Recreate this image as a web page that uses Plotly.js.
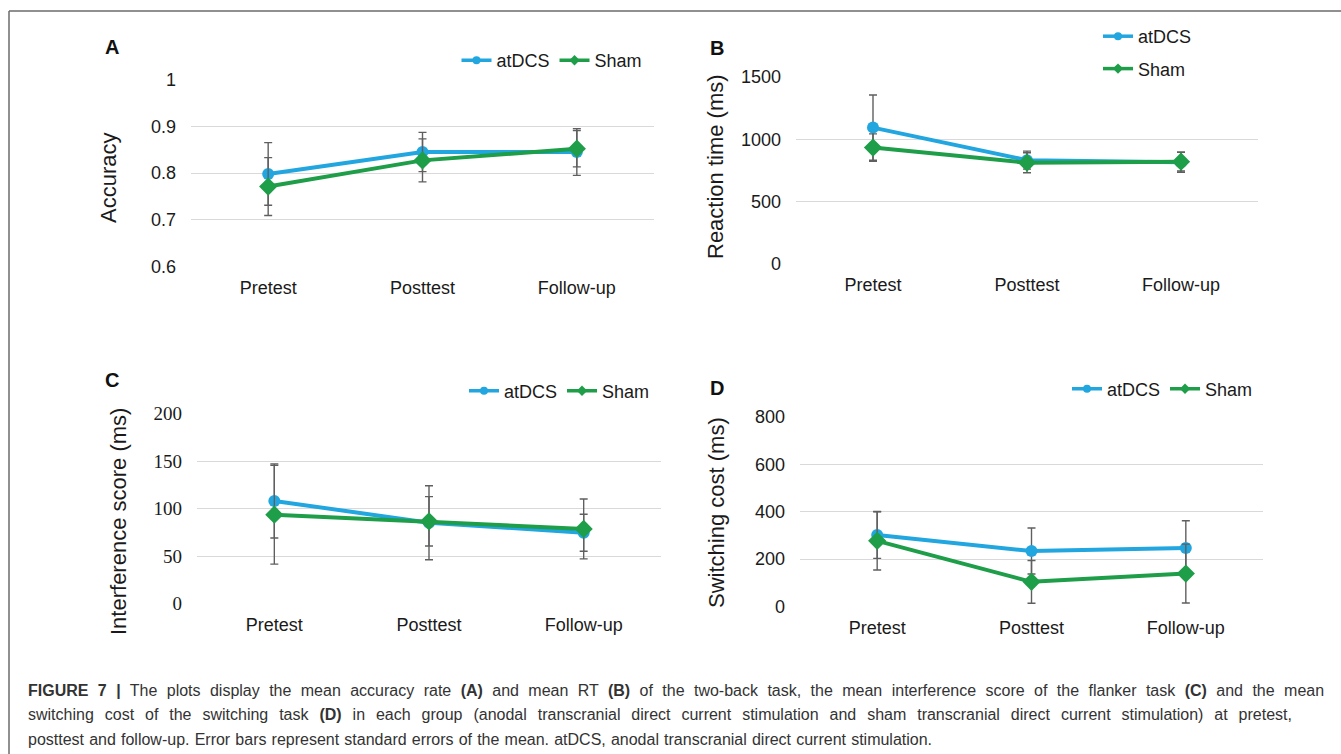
<!DOCTYPE html>
<html>
<head>
<meta charset="utf-8">
<script src="https://cdn.plot.ly/plotly-3.0.1.min.js"></script>
<style>
  html, body { margin: 0; padding: 0; background: #fff; }
  #chart { width: 1341px; height: 754px; }
</style>
</head>
<body>
<div id="chart"></div>
<script>
// ---------- data ----------
const categories = ['Pretest', 'Posttest', 'Follow-up'];
const seriesNames = ['atDCS', 'Sham'];

// Panel A: accuracy (two-back)
const accAtdcs = [0.798, 0.845, 0.845];
const accAtdcsSe = [0.067, 0.042, 0.050];
const accSham = [0.771, 0.827, 0.852];
const accShamSe = [0.062, 0.046, 0.039];
const accTicks = [0.6, 0.7, 0.8, 0.9, 1];
const accTickText = ['0.6', '0.7', '0.8', '0.9', '1'];

// Panel B: reaction time (two-back)
const rtAtdcs = [1093, 832, 815];
const rtAtdcsSe = [262, 72, 80];
const rtSham = [933, 811, 820];
const rtShamSe = [110, 80, 75];
const rtTicks = [0, 500, 1000, 1500];

// Panel C: interference score (flanker)
const intAtdcs = [108, 85, 74.5];
const intAtdcsSe = [39, 39, 19.5];
const intSham = [93.5, 86.5, 78.5];
const intShamSe = [52, 26, 31.5];
const intTicks = [0, 50, 100, 150, 200];

// Panel D: switching cost (switching task)
const swAtdcs = [302, 234, 247];
const swAtdcsSe = [99, 97, 115];
const swSham = [277, 104, 139];
const swShamSe = [123, 90, 124];
const swTicks = [0, 200, 400, 600, 800];

const panelLetters = ['A', 'B', 'C', 'D'];
const yTitles = ['Accuracy', 'Reaction time (ms)', 'Interference score (ms)', 'Switching cost (ms)'];

const captionLines = [
  '<b>FIGURE 7 |</b> The plots display the mean accuracy rate <b>(A)</b> and mean RT <b>(B)</b> of the two-back task, the mean interference score of the flanker task <b>(C)</b> and the mean',
  'switching cost of the switching task <b>(D)</b> in each group (anodal transcranial direct current stimulation and sham transcranial direct current stimulation) at pretest,',
  'posttest and follow-up. Error bars represent standard errors of the mean. atDCS, anodal transcranial direct current stimulation.'
];

// ---------- styling ----------
const W = 1341, H = 754;
const px = x => x / W;
const py = y => 1 - y / H;
const BLUE = '#21A6E0';
const GREEN = '#1E9E48';
const ERR = '#5f5f5f';
const SANS = 'Liberation Sans, Arial, sans-serif';
const SERIF = 'Liberation Serif, Times New Roman, serif';
const TXT = '#1a1a1a';

function pair(xa, ya, legendId, aVals, aSe, sVals, sSe) {
  const err = se => ({type: 'data', array: se, visible: true, color: ERR, thickness: 1.4, width: 4});
  const aLine = {color: BLUE, width: 4};
  const sLine = {color: GREEN, width: 4};
  return [
    {x: categories, y: aVals, name: seriesNames[0], type: 'scatter', mode: 'lines+markers',
     xaxis: xa, yaxis: ya, showlegend: false,
     line: aLine, marker: {color: BLUE, size: 12, symbol: 'circle'},
     error_y: err(aSe), hoverinfo: 'x+y'},
    {x: categories, y: sVals, name: seriesNames[1], type: 'scatter', mode: 'lines+markers',
     xaxis: xa, yaxis: ya, showlegend: false,
     line: sLine, marker: {color: GREEN, size: 14, symbol: 'diamond'},
     error_y: err(sSe), hoverinfo: 'x+y'},
    // legend entries (no points of their own; smaller legend symbols like the original)
    {x: [null], y: [null], name: seriesNames[0], type: 'scatter', mode: 'lines+markers',
     xaxis: xa, yaxis: ya, legend: legendId, legendgroup: legendId + 'a', hoverinfo: 'skip',
     line: {color: BLUE, width: 3.5}, marker: {color: BLUE, size: 8, symbol: 'circle'}},
    {x: [null], y: [null], name: seriesNames[1], type: 'scatter', mode: 'lines+markers',
     xaxis: xa, yaxis: ya, legend: legendId, legendgroup: legendId + 's', hoverinfo: 'skip',
     line: {color: GREEN, width: 3.5}, marker: {color: GREEN, size: 8, symbol: 'diamond'}}
  ];
}

const data = [
  ...pair('x', 'y', 'legend', accAtdcs, accAtdcsSe, accSham, accShamSe),
  ...pair('x2', 'y2', 'legend2', rtAtdcs, rtAtdcsSe, rtSham, rtShamSe),
  ...pair('x3', 'y3', 'legend3', intAtdcs, intAtdcsSe, intSham, intShamSe),
  ...pair('x4', 'y4', 'legend4', swAtdcs, swAtdcsSe, swSham, swShamSe)
];

function xax(d0, d1, anchor) {
  return {domain: [px(d0), px(d1)], type: 'category', range: [-0.5, 2.5], anchor: anchor,
    showgrid: false, zeroline: false, showline: false, ticks: '',
    ticklabelstandoff: 8, tickfont: {family: SANS, size: 18, color: TXT}, fixedrange: true};
}
function yax(top, bottom, range, tickvals, ticktext, anchor, fontFamily, fontSize) {
  return {domain: [py(bottom), py(top)], range: range, anchor: anchor,
    tickmode: 'array', tickvals: tickvals, ticktext: ticktext,
    showgrid: true, gridcolor: '#d9d9d9', gridwidth: 1.3, zeroline: false, showline: false, ticks: '',
    ticklabelstandoff: 14, tickfont: {family: fontFamily, size: fontSize, color: TXT}, fixedrange: true};
}

function legendAt(x, y, orientation, extra) {
  return Object.assign({x: px(x), y: py(y), xanchor: 'left', yanchor: 'middle', orientation: orientation,
    bgcolor: 'rgba(0,0,0,0)', borderwidth: 0, font: {family: SANS, size: 18, color: TXT},
    itemclick: false, itemdoubleclick: false}, extra || {});
}

const annotations = [];
// panel letters
[[112, 47], [717, 48], [112, 380], [717, 388]].forEach((p, i) => {
  annotations.push({text: '<b>' + panelLetters[i] + '</b>', xref: 'paper', yref: 'paper',
    x: px(p[0]), y: py(p[1]), xanchor: 'center', yanchor: 'middle', showarrow: false,
    font: {family: SANS, size: 20, color: '#111'}});
});
// y axis titles
[[109, 178], [716, 167], [118, 522], [716, 513]].forEach((p, i) => {
  annotations.push({text: yTitles[i], xref: 'paper', yref: 'paper', textangle: -90,
    x: px(p[0]), y: py(p[1]), xanchor: 'center', yanchor: 'middle', showarrow: false,
    font: {family: SANS, size: 22, color: TXT}});
});
// caption
const captionStartX = 26;
const captionEnds = [1322, 1290, 930];
const captionIdx0 = annotations.length;
[690, 714, 739].forEach((yy, i) => {
  annotations.push({text: captionLines[i], xref: 'paper', yref: 'paper', align: 'left',
    x: px(captionStartX), y: py(yy), xanchor: 'left', yanchor: 'middle', showarrow: false,
    font: {family: SANS, size: 16, color: '#333'}});
});

const layout = {
  width: W, height: H,
  margin: {l: 0, r: 0, t: 0, b: 0},
  paper_bgcolor: '#fff', plot_bgcolor: '#fff',
  showlegend: true,
  xaxis: xax(191, 654, 'y'),
  yaxis: yax(79.3, 266.7, [0.5995, 1.0005], accTicks, accTickText, 'x', SANS, 18),
  xaxis2: xax(796, 1258, 'y2'),
  yaxis2: yax(76.7, 264, [-1.5, 1501.5], rtTicks, rtTicks.map(String), 'x2', SANS, 18),
  xaxis3: xax(197, 661, 'y3'),
  yaxis3: yax(413.3, 603.7, [-0.2, 200.2], intTicks, intTicks.map(String), 'x3', SERIF, 19),
  xaxis4: xax(800, 1263, 'y4'),
  yaxis4: yax(416.7, 606.7, [-0.8, 800.8], swTicks, swTicks.map(String), 'x4', SANS, 18),
  legend: legendAt(456.5, 60.5, 'h'),
  legend2: legendAt(1098, 52.5, 'v', {traceorder: 'grouped', tracegroupgap: 6}),
  legend3: legendAt(464, 391, 'h'),
  legend4: legendAt(1067, 389, 'h'),
  annotations: annotations,
  shapes: [
    {type: 'line', xref: 'paper', yref: 'paper', x0: px(9), x1: 1, y0: py(11), y1: py(11),
     line: {color: '#6b6b6b', width: 1.5}},
    {type: 'line', xref: 'paper', yref: 'paper', x0: px(9), x1: px(9), y0: py(11), y1: 0,
     line: {color: '#6b6b6b', width: 1.5}}
  ]
};

Plotly.newPlot('chart', data, layout, {displayModeBar: false, responsive: false}).then(gd => {
  // spread caption words so each line ends where the printed caption does
  captionEnds.forEach((endX, i) => {
    const g = gd.querySelector('g.annotation[data-index="' + (captionIdx0 + i) + '"]');
    if (!g) return;
    const t = g.querySelector('text.annotation-text');
    if (!t) return;
    const natural = t.getBBox().width;
    const spaces = (t.textContent.match(/ /g) || []).length;
    if (spaces > 0) {
      const ws = (endX - captionStartX - natural) / spaces;
      t.style.wordSpacing = ws.toFixed(2) + 'px';
    }
  });
});
</script>
</body>
</html>
